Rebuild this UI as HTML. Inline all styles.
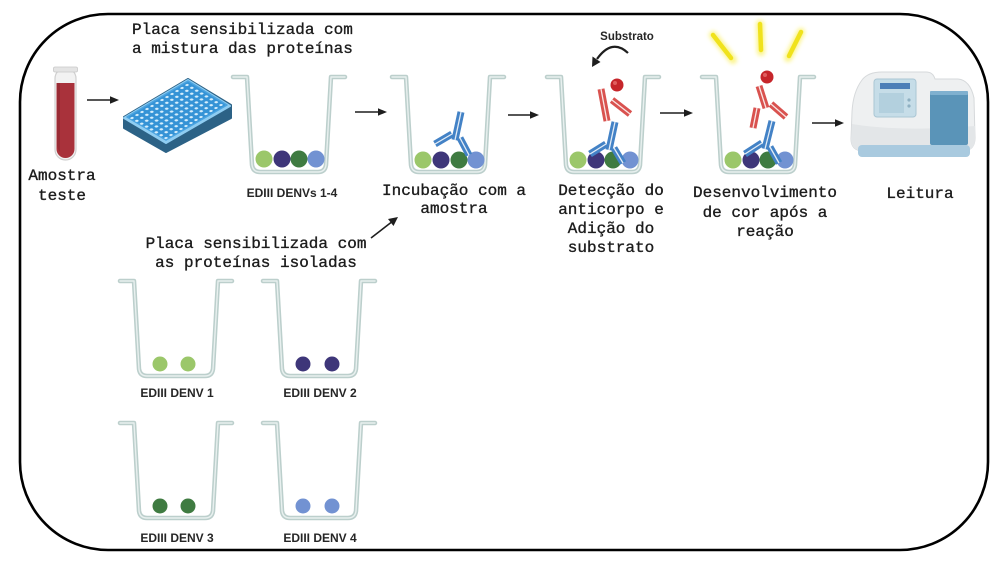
<!DOCTYPE html>
<html><head><meta charset="utf-8"><style>
html,body{margin:0;padding:0;background:#fff;}
svg{display:block;}
.m{font-family:"Liberation Mono","DejaVu Sans Mono",monospace;font-size:16px;fill:#1c1c1c;stroke:#1c1c1c;stroke-width:0.35;}
.s{font-family:"Liberation Sans",Arial,sans-serif;font-size:12px;font-weight:bold;fill:#262626;}
</style></head><body>
<svg width="1000" height="561" viewBox="0 0 1000 561" xmlns="http://www.w3.org/2000/svg">
<defs>
<pattern id="dots" width="10" height="10" patternUnits="userSpaceOnUse"><circle cx="5" cy="5" r="2.6" fill="#d6eefc"/></pattern>
<filter id="glow" x="-50%" y="-50%" width="200%" height="200%"><feGaussianBlur stdDeviation="2"/></filter>
<g id="well">
  <path d="M0,0 H14 L19,88 Q20,95 27,95 H85 Q92,95 93,88 L98,0 H112" fill="none" stroke="#bccfcc" stroke-width="4.5" stroke-linejoin="round" stroke-linecap="round"/>
  <path d="M0,0 H14 L19,88 Q20,95 27,95 H85 Q92,95 93,88 L98,0 H112" fill="none" stroke="#e8f0ef" stroke-width="1.4" stroke-linejoin="round" stroke-linecap="round"/>
</g>
</defs>
<rect x="0" y="0" width="1000" height="561" fill="#fff"/>
<!-- border -->
<rect x="20" y="14" width="968" height="536" rx="88" ry="88" fill="none" stroke="#000" stroke-width="2.6"/>

<!-- texts -->
<text class="m" x="132" y="34">Placa sensibilizada com</text>
<text class="m" x="132" y="53">a mistura das proteínas</text>
<text class="m" x="62" y="180" text-anchor="middle">Amostra</text>
<text class="m" x="62" y="200" text-anchor="middle">teste</text>
<text class="s" x="292" y="197" text-anchor="middle">EDIII DENVs 1-4</text>
<text class="m" x="454" y="195" text-anchor="middle">Incubação com a</text>
<text class="m" x="454" y="213" text-anchor="middle">amostra</text>
<text class="m" x="611" y="195" text-anchor="middle">Detecção do</text>
<text class="m" x="611" y="214" text-anchor="middle">anticorpo e</text>
<text class="m" x="611" y="233" text-anchor="middle">Adição do</text>
<text class="m" x="611" y="252" text-anchor="middle">substrato</text>
<text class="m" x="765" y="197" text-anchor="middle">Desenvolvimento</text>
<text class="m" x="765" y="217" text-anchor="middle">de cor após a</text>
<text class="m" x="765" y="236" text-anchor="middle">reação</text>
<text class="m" x="920" y="198" text-anchor="middle">Leitura</text>
<text class="m" x="256" y="248" text-anchor="middle">Placa sensibilizada com</text>
<text class="m" x="256" y="267" text-anchor="middle">as proteínas isoladas</text>
<text class="s" x="177" y="397" text-anchor="middle">EDIII DENV 1</text>
<text class="s" x="320" y="397" text-anchor="middle">EDIII DENV 2</text>
<text class="s" x="177" y="542" text-anchor="middle">EDIII DENV 3</text>
<text class="s" x="320" y="542" text-anchor="middle">EDIII DENV 4</text>
<text class="s" x="627" y="40" text-anchor="middle" style="font-size:11.5px">Substrato</text>

<!-- tube -->
<rect x="55" y="68" width="21" height="92" rx="10.5" fill="#f2f2f2" stroke="#d0d0d0" stroke-width="1.2"/>
<rect x="53.5" y="67" width="24" height="5" rx="1.5" fill="#e4e4e4" stroke="#c8c8c8" stroke-width="0.8"/>
<path d="M56.5,83 H74.5 V149 A9,9 0 0 1 56.5,149 Z" fill="#a9323b"/>
<path d="M57,83 H60 V152 Q58,150 57,146 Z" fill="#8f2630" opacity="0.6"/>

<!-- plate -->
<polygon points="124,117 188,79 231,105 231,118 166,152 124,128" fill="#2c6286" stroke="#2c6286" stroke-width="2" stroke-linejoin="round"/>
<polygon points="124,118 188,80 230,106 166,143" fill="#8fcdf2" stroke="#8fcdf2" stroke-width="2" stroke-linejoin="round"/>
<polygon points="127,117 188,81 227,105 166,140" fill="#3593d6" stroke="#4aa3e0" stroke-width="1.5" stroke-linejoin="round"/>
<g transform="matrix(0.5 -0.3 0.4875 0.2875 127 118)">
  <rect x="2" y="3" width="116" height="74" fill="url(#dots)"/>
</g>

<!-- arrows -->
<g stroke="#1e1e1e" stroke-width="1.6" fill="#1e1e1e">
  <line x1="87" y1="100" x2="111" y2="100"/><polygon points="119,100 110,96.3 110,103.7" stroke="none"/>
  <line x1="355" y1="112" x2="379" y2="112"/><polygon points="387,112 378,108.3 378,115.7" stroke="none"/>
  <line x1="508" y1="115" x2="531" y2="115"/><polygon points="539,115 530,111.3 530,118.7" stroke="none"/>
  <line x1="660" y1="113" x2="685" y2="113"/><polygon points="693,113 684,109.3 684,116.7" stroke="none"/>
  <line x1="812" y1="123" x2="836" y2="123"/><polygon points="844,123 835,119.3 835,126.7" stroke="none"/>
  <line x1="371" y1="238" x2="391" y2="222.5"/><polygon points="398,217 393.5,226 388,219" stroke="none"/>
  <path d="M628,53 Q612,38 597,59" fill="none" stroke-width="2.2"/>
  <polygon points="592,67 592.5,56.5 600.5,62" stroke="none"/>
</g>

<!-- wells -->
<use href="#well" x="233" y="77"/>
<use href="#well" x="392" y="77"/>
<use href="#well" x="547" y="77"/>
<use href="#well" x="702" y="77"/>
<use href="#well" x="120" y="281"/>
<use href="#well" x="263" y="281"/>
<use href="#well" x="120" y="423"/>
<use href="#well" x="263" y="423"/>

<!-- proteins -->
<g>
  <circle cx="264" cy="159" r="8.5" fill="#9bc76a"/><circle cx="282" cy="159" r="8.5" fill="#3e3679"/><circle cx="299" cy="159" r="8.5" fill="#3f7b41"/><circle cx="316" cy="159" r="8.5" fill="#7292d2"/>
  <circle cx="423" cy="160" r="8.5" fill="#9bc76a"/><circle cx="441" cy="160" r="8.5" fill="#3e3679"/><circle cx="459" cy="160" r="8.5" fill="#3f7b41"/><circle cx="476" cy="160" r="8.5" fill="#7292d2"/>
  <circle cx="578" cy="160" r="8.5" fill="#9bc76a"/><circle cx="596" cy="160" r="8.5" fill="#3e3679"/><circle cx="613" cy="160" r="8.5" fill="#3f7b41"/><circle cx="630" cy="160" r="8.5" fill="#7292d2"/>
  <circle cx="733" cy="160" r="8.5" fill="#9bc76a"/><circle cx="751" cy="160" r="8.5" fill="#3e3679"/><circle cx="768" cy="160" r="8.5" fill="#3f7b41"/><circle cx="785" cy="160" r="8.5" fill="#7292d2"/>
  <circle cx="160" cy="364" r="7.5" fill="#9bc76a"/><circle cx="188" cy="364" r="7.5" fill="#9bc76a"/>
  <circle cx="303" cy="364" r="7.5" fill="#3e3679"/><circle cx="332" cy="364" r="7.5" fill="#3e3679"/>
  <circle cx="160" cy="506" r="7.5" fill="#3f7b41"/><circle cx="188" cy="506" r="7.5" fill="#3f7b41"/>
  <circle cx="303" cy="506" r="7.5" fill="#7292d2"/><circle cx="332" cy="506" r="7.5" fill="#7292d2"/>
</g>

<!-- antibodies: blue -->
<g stroke-linecap="butt">
  <g stroke="#4382c6" stroke-width="7">
    <line x1="455" y1="140" x2="461" y2="112"/><line x1="452" y1="134" x2="435" y2="144"/><line x1="460" y1="138" x2="469" y2="155"/>
    <line x1="609" y1="150" x2="615" y2="122"/><line x1="606" y1="144" x2="590" y2="154"/><line x1="614" y1="148" x2="623" y2="163"/>
    <line x1="765" y1="149" x2="772" y2="121"/><line x1="762" y1="143" x2="745" y2="154"/><line x1="770" y1="147" x2="779" y2="163"/>
  </g>
  <g stroke="#ffffff" stroke-width="1.3" opacity="0.85">
    <line x1="455" y1="140" x2="461" y2="112"/><line x1="452" y1="134" x2="435" y2="144"/><line x1="460" y1="138" x2="469" y2="155"/>
    <line x1="609" y1="150" x2="615" y2="122"/><line x1="606" y1="144" x2="590" y2="154"/><line x1="614" y1="148" x2="623" y2="163"/>
    <line x1="765" y1="149" x2="772" y2="121"/><line x1="762" y1="143" x2="745" y2="154"/><line x1="770" y1="147" x2="779" y2="163"/>
  </g>
  <!-- red -->
  <g stroke="#d9524f" stroke-width="7">
    <line x1="601" y1="89" x2="607" y2="121"/><line x1="612" y1="100" x2="630" y2="114"/>
    <line x1="759" y1="86" x2="766" y2="108"/><line x1="757" y1="108" x2="753" y2="128"/><line x1="771" y1="104" x2="786" y2="117"/>
  </g>
  <g stroke="#ffffff" stroke-width="1.3" opacity="0.85">
    <line x1="601" y1="89" x2="607" y2="121"/><line x1="612" y1="100" x2="630" y2="114"/>
    <line x1="759" y1="86" x2="766" y2="108"/><line x1="757" y1="108" x2="753" y2="128"/><line x1="771" y1="104" x2="786" y2="117"/>
  </g>
  <circle cx="617" cy="85" r="6.5" fill="#c6262b"/><circle cx="615" cy="83" r="2" fill="#e06060"/>
  <circle cx="767" cy="77" r="6.5" fill="#c6262b"/><circle cx="765" cy="75" r="2" fill="#e06060"/>
</g>

<!-- yellow rays -->
<g stroke-linecap="round">
  <g stroke="#fbf48a" stroke-width="8" filter="url(#glow)">
    <line x1="713" y1="35" x2="733" y2="60"/><line x1="760" y1="24" x2="761" y2="52"/><line x1="801" y1="32" x2="788" y2="58"/>
  </g>
  <g stroke="#f0e21c" stroke-width="4.5">
    <line x1="713" y1="35" x2="731" y2="58"/><line x1="760" y1="24" x2="761" y2="50"/><line x1="801" y1="32" x2="789" y2="56"/>
  </g>
</g>

<!-- spectrophotometer -->
<path d="M862,80 Q868,72 882,72 L926,72 Q933,72 935,79 L958,79 Q970,80 974,98 L975,138 Q975,150 964,151 L862,151 Q851,150 851,139 L852,112 Q853,92 862,80 Z" fill="#eef0f1" stroke="#d6d9db" stroke-width="1"/>
<path d="M852,124 Q900,132 975,126 L975,140 Q975,150 964,151 L862,151 Q851,150 851,139 Z" fill="#e3e6e8"/>
<rect x="858" y="145" width="112" height="12" rx="4" fill="#a9cadf"/>
<rect x="874" y="79" width="42" height="38" rx="3" fill="#c6dde8" stroke="#aac6d4" stroke-width="1"/>
<rect x="880" y="83" width="30" height="6" fill="#4d7fb8"/>
<rect x="879" y="93" width="25" height="20" fill="#b3d0de"/>
<circle cx="909" cy="100" r="1.6" fill="#8fb0c2"/><circle cx="909" cy="106" r="1.6" fill="#8fb0c2"/>
<rect x="930" y="91" width="38" height="54" rx="2" fill="#5a94b8"/>
<rect x="930" y="91" width="38" height="4" rx="1" fill="#7fb0cf"/>
</svg>
</body></html>
